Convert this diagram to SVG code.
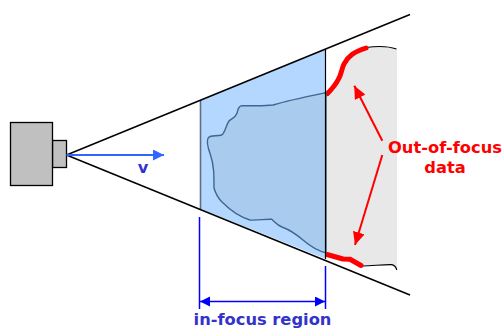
<svg xmlns="http://www.w3.org/2000/svg" width="503" height="329" viewBox="0 0 503 329">
<style>
.lab{font-family:"DejaVu Sans",Verdana,sans-serif;font-weight:bold;font-size:16.300px;text-anchor:middle}
.red{fill:#ff0000}.blu{fill:#3333cc}
.cam{fill:#c0c0c0;stroke:#000;stroke-width:1.3}
.ray{stroke:#000;stroke-width:1.5;fill:none}
.edge{stroke:#000;stroke-width:1.2;fill:none}
.thick{stroke:#ff0000;stroke-width:5;fill:none;stroke-linecap:round;stroke-linejoin:round}
.ra{stroke:#ff0000;stroke-width:2;fill:none}
.dim{stroke:#0000ff;stroke-width:1.5;fill:none}
</style>
<defs>
<marker id="redh" markerUnits="userSpaceOnUse" markerWidth="14" markerHeight="12" refX="13" refY="6" orient="auto"><path d="M0 0L13 6L0 12Z" fill="#ff0000"/></marker>
<marker id="dimh" markerUnits="userSpaceOnUse" markerWidth="11" markerHeight="11" refX="10" refY="5" orient="auto-start-reverse"><path d="M0 0L10 5L0 10Z" fill="#0000ff"/></marker>
<marker id="vh" markerUnits="userSpaceOnUse" markerWidth="12" markerHeight="12" refX="11" refY="5.500" orient="auto"><path d="M0 0L11 5.500L0 11Z" fill="#3366ff"/></marker>
</defs>
<g id="out-of-focus-region">
<path d="M326 93C332 88 336 84 339 79C342 74 342 69 345 64C349 56 354 52 367 47C377 46 388 46 397 49L397 270C394 264 390 264 365 265.500L354 262L343 259L326 254Z" fill="#e8e8e8"/>
<path class="edge" d="M366 47.500C377 46 388 46 396.500 49"/>
<path class="edge" d="M362 266C375 265.500 385 264.500 391.500 264.700C394 265 396 267 396.800 270"/>
<path class="thick" d="M327.500 93.500C332 89 336 84 338.500 79C341.500 74 341.500 69 344 64C348 56 354 52 366 48"/>
<path class="thick" d="M327 254.500L343 259L350 259.300L361 265.500"/>
</g>
<g id="in-focus-region">
<path d="M201 100L326 49L326 259L201 209Z" fill="#b3d7ff"/>
<path d="M326 92.700C310 96 290 100 273 105C262 106.500 250 105.500 241.700 105.700C237 107 238 112 236.700 113.700C235 118 232 118 229 121C226 125 225 133 221.700 135C217 136.500 211 135 208.500 137.500C206 140 208 148 210.500 155C214 165 214 175 214 188C216 195 218 198 222 202C230 210 240 217 250 220C258 220.500 265 219 271.700 219.300C275 222 277 225 282 227C290 230 296 234 303 240C310 246 317 251 326 252.700Z" fill="#a9cbee" stroke="#3f6690" stroke-width="1.400"/>
<path d="M200.500 100L200.500 209" stroke="#5f6f80" stroke-width="1.600" fill="none"/>
<path d="M325.500 49L325.500 259" stroke="#000" stroke-width="1.200" fill="none"/>
</g>
<g id="camera">
<rect class="cam" x="52.500" y="140.500" width="14" height="27"/>
<rect class="cam" x="10.500" y="122.500" width="42" height="63"/>
</g>
<g id="connectors">
<path class="ray" d="M66.500 155L410 14.500"/>
<path class="ray" d="M66.500 155L410 295"/>
<path d="M66.500 155L164 155" stroke="#3366ff" stroke-width="2" fill="none" marker-end="url(#vh)"/>
<path class="ra" d="M382.300 140.700L354.300 85.700" marker-end="url(#redh)"/>
<path class="ra" d="M382.300 155L355 245" marker-end="url(#redh)"/>
<path class="dim" d="M199.500 217L199.500 309"/>
<path class="dim" d="M325.500 266L325.500 309"/>
<path class="dim" d="M200 301.500L325 301.500" marker-start="url(#dimh)" marker-end="url(#dimh)"/>
</g>
<g id="labels">
<text class="lab blu" x="143" y="173">v</text>
<text class="lab blu" x="262.500" y="324.800">in-focus region</text>
<text class="lab red" x="445" y="153">Out-of-focus</text>
<text class="lab red" x="445" y="173">data</text>
</g>
</svg>
